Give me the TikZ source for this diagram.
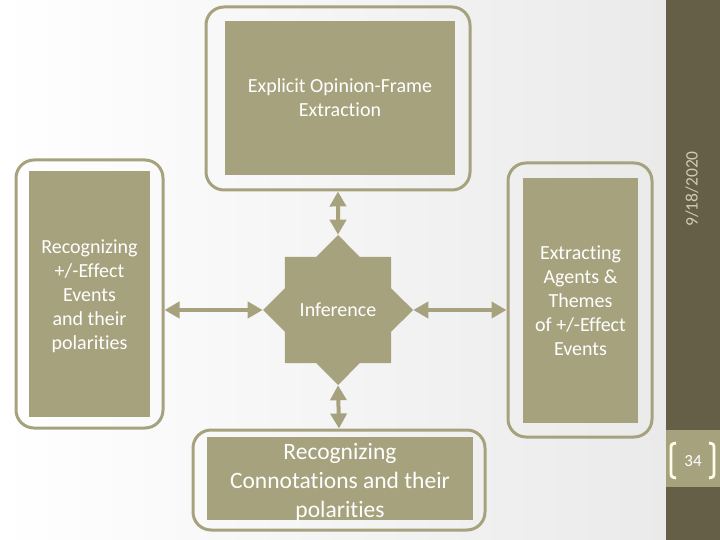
\documentclass[tikz,border=0pt]{standalone}
\usepackage{fontspec}
\setmainfont[Ligatures={NoCommon}]{Carlito}
\usetikzlibrary{arrows.meta,shapes.geometric}
\definecolor{khakifill}{HTML}{A6A27E}
\definecolor{sidebar}{HTML}{665F48}
\definecolor{datecol}{HTML}{CFCBB0}
\definecolor{bggray}{HTML}{EAEAEA}
\definecolor{bracketcol}{HTML}{FFFDE8}
\begin{document}
\begin{tikzpicture}[x=1pt,y=-1pt,
  outerbox/.style={draw=khakifill, line width=3pt, rounded corners=18pt, inner sep=0pt},
  innerbox/.style={fill=khakifill, inner sep=0pt},
  boxtext/.style={text=white, align=center, inner sep=0pt, font=\fontsize{20}{24}\selectfont},
  dbl/.style={draw=khakifill, fill=khakifill, line width=4pt,
    {Triangle[length=15pt,width=16pt]}-{Triangle[length=15pt,width=16pt]}}]
\useasboundingbox (0,0) rectangle (720,540);
\shade[left color=white, right color=bggray] (0,0) rectangle (666,540);
\fill[sidebar] (666,0) rectangle (720,540);
\fill[khakifill] (666,430) rectangle (720,487);

% outer frames
\node[outerbox, minimum width=264pt, minimum height=183pt] (topO) at (338,98.5) {};
\node[outerbox, minimum width=147pt, minimum height=268pt] (leftO) at (89.5,294) {};
\node[outerbox, minimum width=144pt, minimum height=274pt] (rightO) at (580,300) {};
\node[outerbox, minimum width=292pt, minimum height=100pt] (botO) at (339,480) {};

% inner boxes
\node[innerbox, minimum width=230pt, minimum height=154pt] (topI) at (340,98) {};
\node[innerbox, minimum width=121pt, minimum height=246pt] (leftI) at (89.5,294) {};
\node[innerbox, minimum width=115pt, minimum height=245pt] (rightI) at (580.5,300.5) {};
\node[innerbox, minimum width=266pt, minimum height=83pt] (botI) at (340,478.5) {};

\node[boxtext] (topT) at (topI.center) {Explicit Opinion-Frame\\Extraction};
\node[boxtext] (leftT) at ([yshift=-2pt]leftI.center) {Recognizing\\+/-Effect\\Events\\and their\\polarities};
\node[boxtext] (rightT) at (rightI.center) {Extracting\\Agents \&\\Themes\\of +/-Effect\\Events};
\node[boxtext, font=\fontsize{23.5}{29}\selectfont] (botT) at ([yshift=-4pt]botI.center) {Recognizing\\Connotations and their\\polarities};

% star
\node[star, star points=8, star point ratio=1.307, fill=khakifill, text=white,
  minimum size=150pt, inner sep=0pt, font=\fontsize{20}{24}\selectfont] (inf) at (338,310) {Inference};

% connectors
\draw[dbl] (topO.south) -- (inf.north);
\draw[dbl] (inf.south) -- (botO.north);
\draw[dbl] (leftO.east |- inf.west) -- (inf.west);
\draw[dbl] (inf.east) -- (rightO.west |- inf.east);

% sidebar texts
\node[rotate=90, text=datecol, font=\fontsize{17.5}{20}\selectfont] (date) at (692,189) {9/18/2020};
\node[text=white, font=\fontsize{17}{20}\selectfont] (pnum) at (693,461) {34};
\draw[bracketcol, line width=2.8pt] (676,443) .. controls (671,444) .. (671,450) -- (671,471) .. controls (671,477) .. (676,478);
\draw[bracketcol, line width=2.8pt] (709,443) .. controls (714,444) .. (714,450) -- (714,471) .. controls (714,477) .. (709,478);
\end{tikzpicture}
\end{document}
